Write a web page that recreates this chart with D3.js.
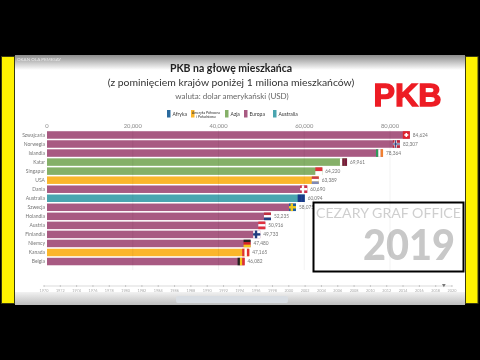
<!DOCTYPE html>
<html lang="pl">
<head>
<meta charset="UTF-8">
<title>PKB na głowę mieszkańca</title>
<script src="https://d3js.org/d3.v7.min.js"></script>
<style>
    html, body { margin: 0; padding: 0; background: #000; overflow: hidden; }
    svg { display: block; font-family: "Lato", sans-serif; filter: blur(0.35px); }
</style>
</head>
<body>
<svg width="480" height="360"></svg>
<script>
const countries = ["Szwajcaria", "Norwegia", "Islandia", "Katar", "Singapur", "USA", "Dania", "Australia", "Szwecja", "Holandia", "Austria", "Finlandia", "Niemcy", "Kanada", "Belgia"];
const gdp = [84624, 82307, 78364, 69961, 64220, 63389, 60690, 60094, 58075, 52235, 50916, 49733, 47480, 47165, 46082];
const regions = ["Europa", "Europa", "Europa", "Azja", "Azja", "Ameryka", "Europa", "Australia", "Europa", "Europa", "Europa", "Europa", "Europa", "Ameryka", "Europa"];
const legendKeys = ["Afryka", "Ameryka", "Azja", "Europa", "Australia"];
const legendColors = ["#2a6a9e", "#fbb62b", "#85b068", "#a85a82", "#4aa5b0"];
const xTicks = [0, 20000, 40000, 60000, 80000];
const years = d3.range(1970, 2021, 2);

// stripes of each flag: direction + colours
const flags = [
    ["swiss", "#e0202c", "#fff"],
    ["cross", "#b8283a", "#fff", "#1f2f70"],
    ["v", "#2e9a5a", "#fff", "#f08030"],
    ["v", "#fff", "#7a1c3c", "#7a1c3c"],
    ["h", "#e0303a", "#fff"],
    ["h", "#c8404a", "#fff", "#7f8ab8"],
    ["cross", "#d0304a", "#fff", "#fff"],
    ["v", "#1a3a8a", "#1a3a8a"],
    ["cross", "#1f5f9a", "#f0c820", "#f0c820"],
    ["h", "#c03040", "#fff", "#203f80"],
    ["h", "#e03040", "#fff", "#e03040"],
    ["cross", "#fff", "#203f80", "#203f80"],
    ["h", "#222", "#d82020", "#f5c518"],
    ["v", "#e03030", "#fff", "#e03030"],
    ["v", "#222", "#f5c518", "#e03030"]
];

const svg = d3.select("svg");

const defs = svg.append("defs");
const topGrad = defs.append("linearGradient").attr("id", "topGrad").attr("x2", 0).attr("y2", 1);
topGrad.append("stop").attr("offset", 0).attr("stop-color", "#8c8c8c");
topGrad.append("stop").attr("offset", 1).attr("stop-color", "#fff");
const botGrad = defs.append("linearGradient").attr("id", "botGrad").attr("x2", 0).attr("y2", 1);
botGrad.append("stop").attr("offset", 0).attr("stop-color", "#f2f2f2");
botGrad.append("stop").attr("offset", 1).attr("stop-color", "#bdbdbd");

// video frame
svg.append("rect").attr("width", 480).attr("height", 360).attr("fill", "#000");
svg.append("rect").attr("x", 15).attr("y", 55).attr("width", 450).attr("height", 250).attr("fill", "#fff");
svg.append("rect").attr("x", 15).attr("y", 55).attr("width", 450).attr("height", 15).attr("fill", "url(#topGrad)");
svg.append("rect").attr("x", 15).attr("y", 292).attr("width", 450).attr("height", 13).attr("fill", "url(#botGrad)");
svg.append("rect").attr("x", 176).attr("y", 296).attr("width", 112).attr("height", 7).attr("rx", 2).attr("fill", "#d8dde3");
svg.append("rect").attr("x", 1.5).attr("y", 56.5).attr("width", 13).attr("height", 247).attr("fill", "#fff200").attr("stroke", "#3a3a10");
svg.append("rect").attr("x", 465.5).attr("y", 56.5).attr("width", 12.5).attr("height", 247).attr("fill", "#fff200").attr("stroke", "#3a3a10");
svg.append("text").attr("x", 17).attr("y", 61).attr("font-size", 4.5).attr("fill", "#e8e8e8").text("OKAN OLA PEMESAY");

// titles
svg.append("text").attr("x", 231).attr("y", 72).attr("text-anchor", "middle")
    .attr("font-size", 10.5).attr("font-weight", 700).attr("fill", "#222")
    .text("PKB na głowę mieszkańca");
svg.append("text").attr("x", 231).attr("y", 85.5).attr("text-anchor", "middle")
    .attr("font-size", 10.4).attr("fill", "#333")
    .text("(z pominięciem krajów poniżej 1 miliona mieszkańców)");
svg.append("text").attr("x", 232).attr("y", 98.5).attr("text-anchor", "middle")
    .attr("font-size", 8).attr("fill", "#666")
    .text("waluta: dolar amerykański (USD)");
svg.append("text").attr("x", 373.5).attr("y", 105.5).attr("font-family", "Liberation Sans, sans-serif")
    .attr("font-size", 31).attr("font-weight", 700).attr("fill", "#ed1c24")
    .attr("stroke", "#ed1c24").attr("stroke-width", 1.3)
    .attr("textLength", 68).attr("lengthAdjust", "spacingAndGlyphs").text("PKB");

// scales
const x = d3.scaleLinear().domain([0, 80000]).range([47, 390]);
const y = d3.scaleBand().domain(countries).range([130.5, 266]).paddingInner(0.17).paddingOuter(0.08);
const colorOf = d3.scaleOrdinal().domain(legendKeys).range(legendColors);

// legend
const legendOffsets = [167, 191, 225, 244, 273];
legendKeys.forEach((k, i) => {
    const lx = legendOffsets[i];
    svg.append("rect").attr("x", lx).attr("y", 110).attr("width", 3.5).attr("height", 7.5).attr("fill", colorOf(k));
    if (k === "Ameryka") {
        svg.append("text").attr("x", lx + 15).attr("y", 113.5).attr("text-anchor", "middle").attr("font-size", 3.4).attr("fill", "#333").text("Ameryka Północna");
        svg.append("text").attr("x", lx + 15).attr("y", 117.5).attr("text-anchor", "middle").attr("font-size", 3.4).attr("fill", "#333").text("i Południowa");
    } else {
        svg.append("text").attr("x", lx + 5.5).attr("y", 116).attr("font-size", 5).attr("fill", "#333").text(k);
    }
});

// gridlines under the bars
const grid = svg.append("g");

// top axis labels
svg.selectAll(".tick-label").data(xTicks).enter().append("text")
    .attr("class", "tick-label")
    .attr("x", d => x(d)).attr("y", 128)
    .attr("text-anchor", "middle").attr("font-size", 5.8).attr("fill", "#8a8a8a")
    .text(d3.format(","));

// bars
svg.selectAll(".bar").data(countries).enter().append("rect")
    .attr("class", "bar")
    .attr("x", x(0)).attr("y", d => y(d))
    .attr("width", (d, i) => x(gdp[i]) - x(0)).attr("height", y.bandwidth())
    .attr("fill", (d, i) => colorOf(regions[i]));

svg.selectAll(".country").data(countries).enter().append("text")
    .attr("class", "country")
    .attr("x", 45).attr("y", d => y(d) + y.bandwidth() / 2 + 1.8)
    .attr("text-anchor", "end").attr("font-size", 5).attr("fill", "#777")
    .text(d => d);

svg.selectAll(".value").data(countries).enter().append("text")
    .attr("class", "value")
    .attr("x", (d, i) => x(gdp[i]) + 3).attr("y", d => y(d) + y.bandwidth() / 2 + 1.8)
    .attr("font-size", 4.8).attr("fill", "#777")
    .text((d, i) => d3.format(",")(gdp[i]));

// flags at the bar ends
countries.forEach((c, i) => {
    const f = flags[i], w = 7, h = y.bandwidth();
    const fx = x(gdp[i]) - w, fy = y(c);
    const g = svg.append("g").attr("transform", `translate(${fx},${fy})`);
    if (f[0] === "v") {
        const n = f.length - 1;
        for (let k = 0; k < n; k++) g.append("rect").attr("x", k * w / n).attr("width", w / n + 0.1).attr("height", h).attr("fill", f[k + 1]);
    } else if (f[0] === "h") {
        const n = f.length - 1;
        for (let k = 0; k < n; k++) g.append("rect").attr("y", k * h / n).attr("width", w).attr("height", h / n + 0.1).attr("fill", f[k + 1]);
    } else if (f[0] === "swiss") {
        g.append("rect").attr("width", w).attr("height", h).attr("fill", f[1]);
        g.append("rect").attr("x", 1.5).attr("y", h / 2 - 0.8).attr("width", 4).attr("height", 1.6).attr("fill", f[2]);
        g.append("rect").attr("x", 2.7).attr("y", h / 2 - 2).attr("width", 1.6).attr("height", 4).attr("fill", f[2]);
    } else {
        g.append("rect").attr("width", w).attr("height", h).attr("fill", f[1]);
        g.append("rect").attr("y", h / 2 - 1.2).attr("width", w).attr("height", 2.4).attr("fill", f[2]);
        g.append("rect").attr("x", 1.6).attr("width", 2.4).attr("height", h).attr("fill", f[2]);
        g.append("rect").attr("y", h / 2 - 0.5).attr("width", w).attr("height", 1).attr("fill", f[3]);
        g.append("rect").attr("x", 2.3).attr("width", 1).attr("height", h).attr("fill", f[3]);
    }
});

// year box
svg.append("rect").attr("x", 313.5).attr("y", 202.5).attr("width", 150).attr("height", 69)
    .attr("fill", "#fff").attr("stroke", "#000").attr("stroke-width", 2);
svg.append("text").attr("x", 316).attr("y", 218)
    .attr("font-size", 13.5).attr("fill", "#cfcfcf")
    .attr("textLength", 145).attr("lengthAdjust", "spacingAndGlyphs").text("CEZARY GRAF OFFICE");
svg.append("text").attr("x", 363).attr("y", 260)
    .attr("font-size", 42).attr("font-weight", 900).attr("fill", "#c8c8c8")
    .attr("textLength", 92).attr("lengthAdjust", "spacingAndGlyphs").text("2019");

// faint gridlines stay visible over the box
grid.raise();
grid.selectAll("line").data(xTicks.slice(1)).enter().append("line")
    .attr("x1", d => x(d)).attr("x2", d => x(d)).attr("y1", 130).attr("y2", 270)
    .attr("stroke", "#000").attr("stroke-opacity", 0.05);

// year timeline
const t = d3.scaleLinear().domain([1970, 2020]).range([44, 452]);
svg.append("line").attr("x1", t(1970)).attr("x2", t(2020)).attr("y1", 286).attr("y2", 286).attr("stroke", "#ccc").attr("stroke-width", 0.7);
svg.selectAll(".yr-tick").data(years).enter().append("line")
    .attr("class", "yr-tick").attr("x1", d => t(d)).attr("x2", d => t(d)).attr("y1", 285).attr("y2", 287).attr("stroke", "#aaa").attr("stroke-width", 0.6);
svg.selectAll(".yr").data(years).enter().append("text")
    .attr("class", "yr").attr("x", d => t(d)).attr("y", 291.5)
    .attr("text-anchor", "middle").attr("font-size", 3.8).attr("fill", "#aaa").text(d => d);
svg.append("path").attr("d", d3.symbol(d3.symbolTriangle, 6)()).attr("transform", `translate(${t(2019)},285) rotate(180)`).attr("fill", "#777");
</script>
</body>
</html>
